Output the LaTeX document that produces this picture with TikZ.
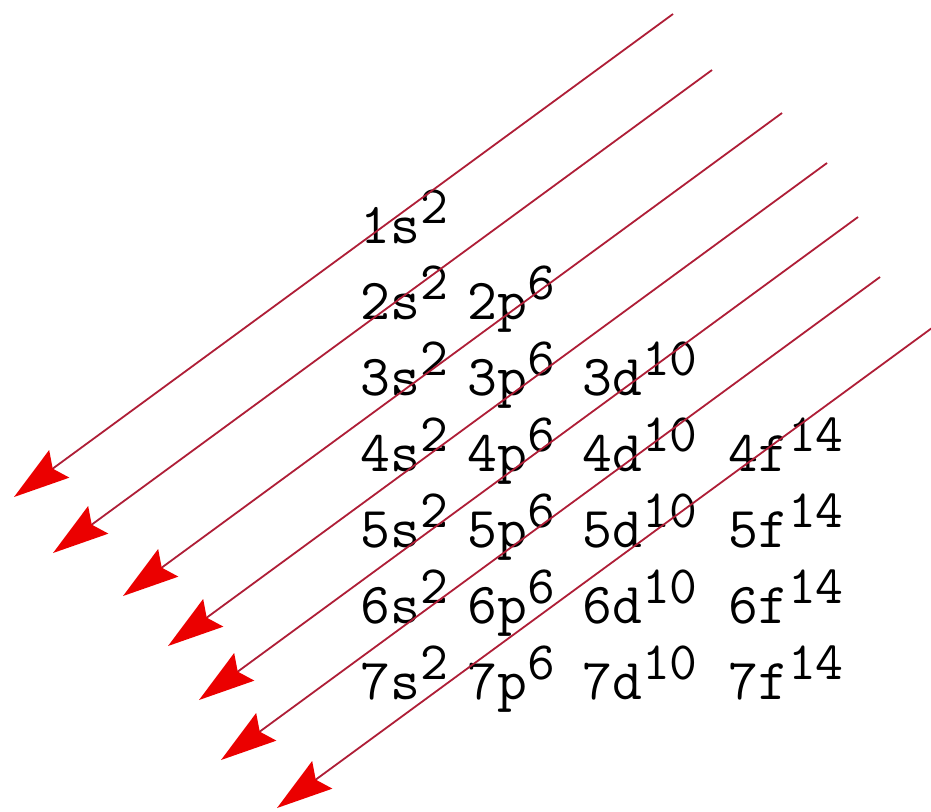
\documentclass[tikz,border=0pt]{standalone}
\usetikzlibrary{arrows.meta,calc}

\definecolor{linered}{RGB}{175,30,55}
\definecolor{tipred}{RGB}{235,0,0}
\newcommand\orbsup[1]{\raisebox{10pt}{\fontsize{27}{27}\selectfont #1}}

\begin{document}
\begin{tikzpicture}[
    x=0.5pt, y=-0.5pt,
    orbital/.style={anchor=base west, inner sep=0pt, font=\ttfamily\fontsize{29}{29}\selectfont},
    diag/.style={draw=linered, line width=0.9pt,
      -{Stealth[length=28pt, width=17pt, inset=4pt, color=tipred]}}
  ]

  \useasboundingbox (0,0) rectangle (931,811);
  \fill[white] (0,0) rectangle (931,811);
  \clip (0,0) rectangle (931,811);

  % Orbitals
  \node[orbital] (n1s) at (360,243) {1s\orbsup{2}};

  \node[orbital] (n2s) at (360,319) {2s\orbsup{2}};
  \node[orbital] (n2p) at (467,319) {2p\orbsup{6}};

  \node[orbital] (n3s) at (360,395) {3s\orbsup{2}};
  \node[orbital] (n3p) at (467,395) {3p\orbsup{6}};
  \node[orbital] (n3d) at (582,395) {3d\orbsup{10}};

  \node[orbital] (n4s) at (360,471) {4s\orbsup{2}};
  \node[orbital] (n4p) at (467,471) {4p\orbsup{6}};
  \node[orbital] (n4d) at (582,471) {4d\orbsup{10}};
  \node[orbital] (n4f) at (728,471) {4f\orbsup{14}};

  \node[orbital] (n5s) at (360,547) {5s\orbsup{2}};
  \node[orbital] (n5p) at (467,547) {5p\orbsup{6}};
  \node[orbital] (n5d) at (582,547) {5d\orbsup{10}};
  \node[orbital] (n5f) at (728,547) {5f\orbsup{14}};

  \node[orbital] (n6s) at (360,623) {6s\orbsup{2}};
  \node[orbital] (n6p) at (467,623) {6p\orbsup{6}};
  \node[orbital] (n6d) at (582,623) {6d\orbsup{10}};
  \node[orbital] (n6f) at (728,623) {6f\orbsup{14}};

  \node[orbital] (n7s) at (360,699) {7s\orbsup{2}};
  \node[orbital] (n7p) at (467,699) {7p\orbsup{6}};
  \node[orbital] (n7d) at (582,699) {7d\orbsup{10}};
  \node[orbital] (n7f) at (728,699) {7f\orbsup{14}};

  % Filling order arrows
  \coordinate (top1) at (673,14);
  \coordinate (top2) at (712,70);
  \coordinate (top3) at (782,113);
  \coordinate (top4) at (827,163);
  \coordinate (top5) at (858,217);
  \coordinate (top6) at (880,277);
  \coordinate (top7) at (936,325);

  \coordinate (tip1) at ($(top1)+(-659,483)$);
  \coordinate (tip2) at ($(top2)+(-659,483)$);
  \coordinate (tip3) at ($(top3)+(-659,483)$);
  \coordinate (tip4) at ($(top4)+(-659,483)$);
  \coordinate (tip5) at ($(top5)+(-659,483)$);
  \coordinate (tip6) at ($(top6)+(-659,483)$);
  \coordinate (tip7) at ($(top7)+(-659,483)$);

  \draw[diag] (top1) -- (tip1);
  \draw[diag] (top2) -- (tip2);
  \draw[diag] (top3) -- (tip3);
  \draw[diag] (top4) -- (tip4);
  \draw[diag] (top5) -- (tip5);
  \draw[diag] (top6) -- (tip6);
  \draw[diag] (top7) -- (tip7);

\end{tikzpicture}
\end{document}
